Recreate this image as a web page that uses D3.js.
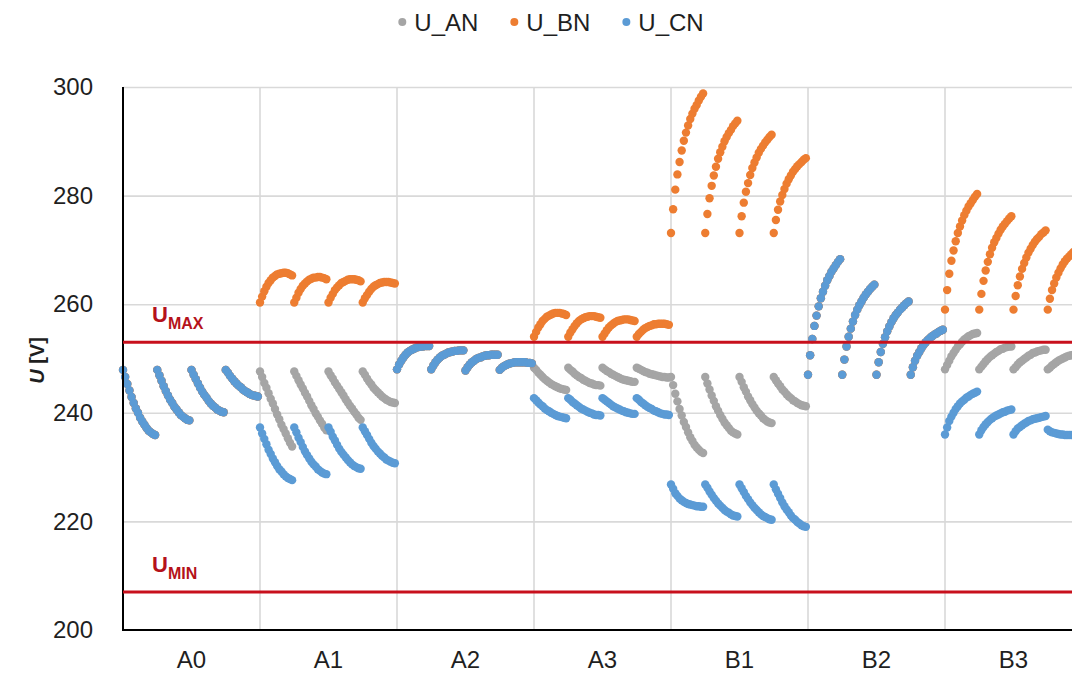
<!DOCTYPE html>
<html>
<head>
<meta charset="utf-8">
<script src="https://cdn.jsdelivr.net/npm/d3@7"></script>
<style>
  body { margin: 0; background: #fff; }
  svg { display: block; }
  text { font-family: "Liberation Sans", Arial, sans-serif; }
</style>
</head>
<body>
<svg id="chart" width="1072" height="675"></svg>
<script>
// Test sites along the x axis; each holds four measurement runs of 16 samples.
const categories = ["A0", "A1", "A2", "A3", "B1", "B2", "B3"];
const seriesNames = ["U_AN", "U_BN", "U_CN"];
const seriesColors = ["#a5a5a5", "#ed7d31", "#5b9bd5"];
const yTicks = [200, 220, 240, 260, 280, 300];
const U_MAX = 253;
const U_MIN = 207;

// ---- A0 (all three phases identical) ----
const U_CN_A0 = [
  [247.9,246.6,245.3,244.1,242.9,241.8,240.8,240.0,239.1,238.4,237.8,237.2,236.7,236.4,236.1,235.9],
  [247.9,246.9,245.9,244.9,244.0,243.2,242.4,241.8,241.1,240.6,240.1,239.6,239.3,239.0,238.7,238.6],
  [247.9,247.0,246.2,245.4,244.6,243.9,243.3,242.8,242.2,241.7,241.3,241.0,240.6,240.4,240.2,240.1],
  [247.9,247.4,246.8,246.3,245.8,245.4,245.0,244.7,244.3,244.0,243.8,243.5,243.3,243.2,243.1,243.0]
];
const U_AN_A0 = U_CN_A0;
const U_BN_A0 = U_CN_A0;

// ---- A1 ----
const U_AN_A1 = [
  [247.6,246.6,245.5,244.6,243.6,242.6,241.7,240.7,239.7,238.8,237.8,237.0,236.2,235.3,234.5,233.8],
  [247.6,246.8,246.0,245.2,244.5,243.7,243.0,242.2,241.4,240.7,239.9,239.3,238.6,238.0,237.3,236.8],
  [247.6,246.9,246.3,245.6,245.0,244.4,243.8,243.2,242.5,241.9,241.3,240.8,240.2,239.7,239.1,238.7],
  [247.6,247.0,246.3,245.7,245.2,244.6,244.2,243.8,243.4,243.0,242.7,242.4,242.2,242.0,241.9,241.8]
];
const U_BN_A1 = [
  [260.3,261.4,262.4,263.2,263.9,264.4,264.9,265.2,265.5,265.6,265.7,265.8,265.8,265.7,265.5,265.3],
  [260.3,261.2,262.1,262.8,263.4,263.8,264.2,264.5,264.7,264.9,264.9,265.0,265.0,264.9,264.8,264.6],
  [260.3,261.2,261.9,262.6,263.1,263.5,263.9,264.1,264.3,264.5,264.6,264.6,264.6,264.5,264.4,264.2],
  [260.3,261.1,261.7,262.3,262.8,263.2,263.5,263.7,263.9,264.0,264.1,264.1,264.1,264.0,263.9,263.8]
];
const U_CN_A1 = [
  [237.3,236.2,235.2,234.2,233.2,232.4,231.6,230.9,230.2,229.6,229.2,228.7,228.3,228.0,227.8,227.6],
  [237.3,236.4,235.4,234.6,233.7,232.9,232.2,231.6,231.0,230.5,230.1,229.6,229.3,229.0,228.8,228.7],
  [237.3,236.5,235.6,234.9,234.1,233.4,232.8,232.3,231.8,231.3,230.9,230.5,230.2,230.0,229.8,229.7],
  [237.3,236.6,235.9,235.2,234.5,233.9,233.4,232.9,232.5,232.1,231.8,231.4,231.2,231.0,230.8,230.7]
];

// ---- A2 (all three phases identical) ----
const U_CN_A2 = [
  [248.0,248.9,249.6,250.2,250.7,251.1,251.4,251.6,251.8,252.0,252.1,252.2,252.2,252.3,252.3,252.3],
  [248.0,248.7,249.3,249.8,250.2,250.5,250.7,250.9,251.1,251.2,251.3,251.4,251.4,251.5,251.5,251.5],
  [247.8,248.4,248.9,249.3,249.6,249.9,250.1,250.2,250.4,250.5,250.6,250.6,250.7,250.7,250.7,250.7],
  [247.9,248.3,248.6,248.8,249.0,249.1,249.2,249.3,249.3,249.3,249.3,249.3,249.3,249.2,249.2,249.1]
];
const U_AN_A2 = U_CN_A2;
const U_BN_A2 = U_CN_A2;

// ---- A3 ----
const U_AN_A3 = [
  [248.3,247.9,247.4,247.0,246.6,246.2,245.9,245.6,245.3,245.1,244.9,244.7,244.5,244.4,244.3,244.2],
  [248.3,247.9,247.6,247.2,246.9,246.6,246.4,246.1,245.9,245.7,245.5,245.4,245.2,245.1,245.1,245.0],
  [248.3,248.0,247.7,247.5,247.2,247.0,246.8,246.6,246.4,246.2,246.1,246.0,245.9,245.8,245.7,245.7],
  [248.3,248.1,247.9,247.7,247.5,247.4,247.2,247.1,247.0,246.9,246.8,246.7,246.6,246.6,246.5,246.5]
];
const U_BN_A3 = [
  [254.0,254.9,255.7,256.3,256.9,257.3,257.7,257.9,258.1,258.3,258.4,258.4,258.4,258.3,258.2,258.0],
  [254.0,254.8,255.4,256.0,256.5,256.9,257.2,257.4,257.6,257.7,257.8,257.8,257.8,257.7,257.6,257.5],
  [254.0,254.6,255.2,255.7,256.1,256.4,256.7,256.9,257.0,257.1,257.2,257.2,257.2,257.1,257.0,256.9],
  [254.0,254.5,254.9,255.3,255.6,255.8,256.0,256.1,256.3,256.3,256.4,256.4,256.4,256.4,256.3,256.2]
];
const U_CN_A3 = [
  [242.7,242.3,241.9,241.5,241.2,240.8,240.5,240.3,240.0,239.8,239.6,239.4,239.3,239.2,239.1,239.0],
  [242.7,242.4,242.0,241.7,241.4,241.1,240.8,240.6,240.4,240.2,240.0,239.9,239.7,239.6,239.6,239.5],
  [242.7,242.4,242.1,241.8,241.5,241.2,241.0,240.8,240.6,240.4,240.3,240.1,240.0,239.9,239.8,239.8],
  [242.7,242.4,242.0,241.7,241.4,241.1,240.9,240.7,240.4,240.3,240.1,239.9,239.8,239.7,239.7,239.6]
];

// ---- B1 ----
const U_AN_B1 = [
  [246.6,245.1,243.5,242.1,240.7,239.5,238.3,237.4,236.4,235.5,234.8,234.1,233.6,233.2,232.8,232.6],
  [246.6,245.4,244.3,243.2,242.2,241.2,240.4,239.6,238.9,238.2,237.7,237.2,236.7,236.4,236.2,236.0],
  [246.6,245.7,244.7,243.9,243.0,242.3,241.6,241.0,240.4,239.9,239.5,239.0,238.7,238.4,238.2,238.1],
  [246.6,246.0,245.4,244.9,244.3,243.9,243.4,243.0,242.7,242.3,242.1,241.8,241.6,241.4,241.3,241.2]
];
const U_BN_B1 = [
  [273.1,277.5,281.1,283.9,286.2,288.3,290.1,291.6,292.9,294.1,295.1,296.0,296.7,297.5,298.2,298.8],
  [273.1,276.6,279.5,281.8,283.7,285.3,286.8,288.0,289.0,290.0,290.8,291.5,292.1,292.8,293.3,293.8],
  [273.1,276.2,278.7,280.7,282.3,283.8,285.1,286.1,287.0,287.9,288.6,289.2,289.8,290.3,290.8,291.2],
  [273.1,275.5,277.4,278.9,280.1,281.2,282.2,283.0,283.7,284.4,284.9,285.4,285.8,286.2,286.6,286.9]
];
const U_CN_B1 = [
  [226.8,226.0,225.2,224.7,224.2,223.9,223.6,223.4,223.2,223.1,223.0,222.9,222.8,222.8,222.7,222.7],
  [226.8,226.2,225.5,224.9,224.3,223.8,223.3,222.9,222.5,222.1,221.8,221.6,221.3,221.1,221.0,220.9],
  [226.8,226.1,225.4,224.7,224.1,223.5,223.0,222.5,222.1,221.7,221.3,221.0,220.8,220.6,220.4,220.3],
  [226.8,225.9,225.1,224.3,223.5,222.8,222.2,221.7,221.1,220.6,220.3,219.9,219.6,219.3,219.1,219.0]
];

// ---- B2 (all three phases identical) ----
const U_CN_B2 = [
  [247.0,250.6,253.6,256.0,257.9,259.6,261.1,262.3,263.4,264.4,265.2,266.0,266.6,267.2,267.8,268.3],
  [247.0,249.8,252.2,254.0,255.5,256.8,258.0,259.0,259.8,260.5,261.2,261.8,262.3,262.8,263.2,263.6],
  [247.0,249.3,251.2,252.7,253.9,255.0,255.9,256.7,257.4,258.0,258.5,259.0,259.4,259.8,260.2,260.5],
  [247.0,248.4,249.6,250.5,251.2,251.9,252.5,253.0,253.4,253.8,254.1,254.4,254.6,254.9,255.1,255.3]
];
const U_AN_B2 = U_CN_B2;
const U_BN_B2 = U_CN_B2;

// ---- B3 ----
const U_AN_B3 = [
  [248.0,248.8,249.6,250.4,251.0,251.6,252.2,252.6,253.1,253.5,253.8,254.1,254.3,254.5,254.6,254.7],
  [248.0,248.5,249.0,249.5,249.9,250.3,250.6,250.9,251.2,251.4,251.7,251.8,252.0,252.1,252.2,252.2],
  [248.0,248.4,248.9,249.3,249.6,249.9,250.2,250.5,250.7,251.0,251.1,251.3,251.4,251.5,251.6,251.6],
  [248.0,248.3,248.7,249.0,249.3,249.6,249.8,250.0,250.2,250.4,250.5,250.6,250.7,250.8,250.9,250.9]
];
const U_BN_B3 = [
  [259.0,262.6,265.6,268.0,269.9,271.6,273.1,274.3,275.4,276.4,277.2,278.0,278.6,279.2,279.8,280.3],
  [259.0,261.9,264.3,266.2,267.8,269.2,270.4,271.4,272.2,273.0,273.7,274.3,274.8,275.3,275.8,276.2],
  [259.0,261.5,263.5,265.1,266.5,267.6,268.6,269.5,270.2,270.9,271.5,272.0,272.4,272.9,273.2,273.6],
  [259.0,261.0,262.6,263.8,264.9,265.8,266.6,267.3,267.9,268.4,268.8,269.2,269.6,269.9,270.2,270.5]
];
const U_CN_B3 = [
  [236.0,237.3,238.5,239.3,240.0,240.7,241.2,241.7,242.1,242.4,242.8,243.0,243.3,243.5,243.7,243.9],
  [236.0,236.8,237.4,237.9,238.3,238.7,239.0,239.3,239.5,239.7,239.9,240.1,240.2,240.4,240.5,240.6],
  [236.0,236.6,237.1,237.4,237.7,238.0,238.2,238.5,238.6,238.8,238.9,239.0,239.1,239.2,239.3,239.4],
  [236.9,236.6,236.4,236.3,236.2,236.1,236.0,236.0,235.9,235.9,235.9,235.9,235.9,235.9,235.9,235.9]
];

const U_AN = [U_AN_A0, U_AN_A1, U_AN_A2, U_AN_A3, U_AN_B1, U_AN_B2, U_AN_B3];
const U_BN = [U_BN_A0, U_BN_A1, U_BN_A2, U_BN_A3, U_BN_B1, U_BN_B2, U_BN_B3];
const U_CN = [U_CN_A0, U_CN_A1, U_CN_A2, U_CN_A3, U_CN_B1, U_CN_B2, U_CN_B3];
const seriesData = [U_AN, U_BN, U_CN];

// ---------------- layout ----------------
const svg = d3.select("#chart");
const plotLeft = 123, plotTop = 87, plotBottom = 630, catWidth = 137;
const plotRight = plotLeft + catWidth * categories.length;
const runsPerCat = 4, samplesPerRun = 16;
const samplesPerCat = runsPerCat * samplesPerRun;

const y = d3.scaleLinear().domain([200, 300]).range([plotBottom, plotTop]);
const xCat = d3.scaleBand().domain(categories).range([plotLeft, plotRight]).padding(0);
const x = d3.scaleLinear().domain([0, categories.length * samplesPerCat]).range([plotLeft, plotRight]);

const gridColor = "#d9d9d9";
const textColor = "#1f1f1f";
const fontFamily = "'Liberation Sans', Arial, sans-serif";

// horizontal gridlines
svg.append("g")
  .attr("transform", `translate(${plotLeft},0)`)
  .call(d3.axisLeft(y).tickValues(yTicks.slice(1)).tickSize(-(plotRight - plotLeft)).tickFormat(""))
  .call(g => g.select(".domain").remove())
  .call(g => g.selectAll("line").attr("stroke", gridColor).attr("stroke-width", 1.6));

// vertical gridlines at category boundaries
svg.append("g")
  .selectAll("line")
  .data(categories.slice(1))
  .join("line")
  .attr("x1", d => xCat(d)).attr("x2", d => xCat(d))
  .attr("y1", plotTop).attr("y2", plotBottom)
  .attr("stroke", gridColor).attr("stroke-width", 1.6);

// y tick labels
svg.append("g")
  .attr("transform", `translate(${plotLeft},0)`)
  .call(d3.axisLeft(y).tickValues(yTicks).tickSize(0).tickPadding(30).tickFormat(d3.format("d")))
  .call(g => g.select(".domain").remove())
  .call(g => g.selectAll("text").attr("font-size", 24).attr("fill", textColor)
    .attr("font-family", fontFamily));

// x category labels
svg.append("g")
  .attr("transform", `translate(0,${plotBottom})`)
  .call(d3.axisBottom(xCat).tickSize(0).tickPadding(21))
  .call(g => g.select(".domain").remove())
  .call(g => g.selectAll("text").attr("font-size", 24).attr("fill", textColor)
    .attr("font-family", fontFamily));

// data points
const points = seriesData.map((cats) => {
  const pts = [];
  cats.forEach((runs, ci) => runs.forEach((run, ri) => run.forEach((v, k) => {
    pts.push({ i: ci * samplesPerCat + ri * samplesPerRun + k, v: v });
  })));
  return pts;
});

svg.append("g")
  .selectAll("g")
  .data(points)
  .join("g")
  .attr("fill", (d, i) => seriesColors[i])
  .selectAll("circle")
  .data(d => d)
  .join("circle")
  .attr("cx", d => x(d.i))
  .attr("cy", d => y(d.v))
  .attr("r", 4.2);

// axis lines
svg.append("line")
  .attr("x1", plotLeft).attr("x2", plotLeft)
  .attr("y1", plotTop).attr("y2", plotBottom + 1)
  .attr("stroke", "#000").attr("stroke-width", 2);
svg.append("line")
  .attr("x1", plotLeft - 1).attr("x2", plotRight)
  .attr("y1", plotBottom).attr("y2", plotBottom)
  .attr("stroke", "#000").attr("stroke-width", 2.2);

// voltage limit lines
const limitColor = "#c8101c";
const limits = [{ v: U_MAX, sub: "MAX" }, { v: U_MIN, sub: "MIN" }];
svg.append("g")
  .selectAll("line")
  .data(limits)
  .join("line")
  .attr("x1", plotLeft).attr("x2", plotRight)
  .attr("y1", d => y(d.v)).attr("y2", d => y(d.v))
  .attr("stroke", limitColor).attr("stroke-width", 3);

const limitLabels = svg.append("g")
  .selectAll("text")
  .data(limits)
  .join("text")
  .attr("x", 152)
  .attr("y", d => y(d.v) - 20)
  .attr("fill", "#b5121b")
  .attr("font-weight", "bold");
limitLabels.append("tspan").attr("font-size", 22).text("U");
limitLabels.append("tspan").attr("font-size", 16).attr("dy", 7).text(d => d.sub);

// y axis title
const yTitle = svg.append("text")
  .attr("transform", `translate(44,${(plotTop + plotBottom) / 2 + 2}) rotate(-90)`)
  .attr("text-anchor", "middle")
  .attr("font-size", 20)
  .attr("font-weight", "bold")
  .attr("fill", textColor);
yTitle.append("tspan").attr("font-style", "italic").text("U");
yTitle.append("tspan").text(" [V]");

// legend
const legend = svg.append("g");
const items = legend.selectAll("g")
  .data(seriesNames)
  .join("g");
items.append("circle")
  .attr("r", 4)
  .attr("cy", -1)
  .attr("fill", (d, i) => seriesColors[i]);
items.append("text")
  .attr("x", 12)
  .attr("dy", "0.35em")
  .attr("font-size", 24)
  .attr("fill", textColor)
  .text(d => d);
let lx = 0;
const gap = 36;
items.each(function () {
  const g = d3.select(this);
  g.attr("transform", `translate(${lx},0)`);
  lx += 12 + g.select("text").node().getComputedTextLength() + gap;
});
const legendWidth = lx - gap;
legend.attr("transform", `translate(${549 - legendWidth / 2 + 4},23)`);
</script>
</body>
</html>
